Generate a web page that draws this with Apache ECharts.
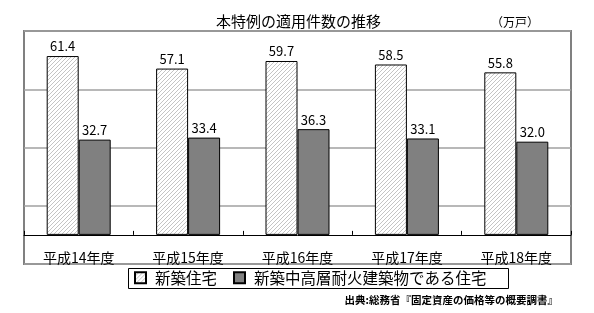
<!DOCTYPE html>
<html>
<head>
<meta charset="utf-8">
<script src="https://cdn.jsdelivr.net/npm/echarts@6/dist/echarts.min.js"></script>
<style>
html,body{margin:0;padding:0;background:#fff;}
#chart{width:594px;height:313px;}
</style>
</head>
<body>
<div id="chart"></div>
<script>
var categories = ['平成14年度', '平成15年度', '平成16年度', '平成17年度', '平成18年度'];
var seriesNames = ['新築住宅', '新築中高層耐火建築物である住宅'];
var newHousing = [61.4, 57.1, 59.7, 58.5, 55.8];
var fireproofHousing = [32.7, 33.4, 36.3, 33.1, 32.0];

var FONT = '"Noto Sans CJK JP", "Noto Sans", sans-serif';

function makeHatch() {
  var c = document.createElement('canvas');
  var s = 4;
  c.width = s; c.height = s;
  var ctx = c.getContext('2d');
  ctx.fillStyle = '#ffffff';
  ctx.fillRect(0, 0, s, s);
  ctx.strokeStyle = '#c4c4c4';
  ctx.lineWidth = 1;
  ctx.beginPath();
  ctx.moveTo(-1, s + 1); ctx.lineTo(s + 1, -1);
  ctx.moveTo(-1, 1); ctx.lineTo(1, -1);
  ctx.moveTo(s - 1, s + 1); ctx.lineTo(s + 1, s - 1);
  ctx.stroke();
  return c;
}

var chart = echarts.init(document.getElementById('chart'));
var labelStyle = {
  show: true, position: 'top', distance: 3,
  color: '#000', fontSize: 13, fontFamily: FONT,
  formatter: function (p) { return p.value.toFixed(1); }
};

chart.setOption({
  animation: false,
  backgroundColor: '#fff',
  title: [{
    text: '本特例の適用件数の推移',
    left: 211, top: 9,
    textStyle: { fontSize: 15, fontWeight: 'normal', color: '#000', fontFamily: FONT }
  }, {
    text: '（万戸）',
    left: 486, top: 11,
    textStyle: { fontSize: 12, fontWeight: 'normal', color: '#000', fontFamily: FONT }
  }, {
    text: '出典:総務省『固定資産の価格等の概要調書』',
    right: 31, top: 290,
    textStyle: { fontSize: 10.5, fontWeight: 'bold', color: '#000', fontFamily: FONT }
  }],
  graphic: [{
    type: 'rect',
    shape: { x: 128.5, y: 268.5, width: 380, height: 20 },
    style: { fill: 'none', stroke: '#000', lineWidth: 1 },
    z: 10
  }],
  legend: {
    left: 134, top: 270,
    padding: [0, 0],
    itemWidth: 11, itemHeight: 11, itemGap: 16,
    icon: 'rect',
    textStyle: { fontSize: 15.5, color: '#000', fontFamily: FONT, padding: [0, 0, 0, 4] },
    data: seriesNames
  },
  grid: {
    left: 24, right: 23, top: 31, bottom: 49,
    show: true, borderColor: '#808080', borderWidth: 2, backgroundColor: 'transparent'
  },
  xAxis: {
    type: 'category',
    data: categories,
    axisLine: { onZero: true, lineStyle: { color: '#000', width: 1 } },
    axisTick: { show: true, inside: true, length: 4, lineStyle: { color: '#000' } },
    axisLabel: { margin: -13, verticalAlign: 'top', fontSize: 14, color: '#000', fontFamily: FONT },
    z: 5
  },
  yAxis: {
    type: 'value',
    min: -10, max: 70, interval: 20,
    axisLine: { show: false },
    axisTick: { show: false },
    axisLabel: { show: false },
    splitLine: { show: true, lineStyle: { color: '#a0a0a0', width: 1.5 } }
  },
  series: [{
    name: seriesNames[0],
    type: 'bar',
    data: newHousing,
    barWidth: 32,
    barGap: '0%',
    itemStyle: { color: { image: makeHatch(), repeat: 'repeat' }, borderColor: '#000', borderWidth: 1 },
    label: labelStyle
  }, {
    name: seriesNames[1],
    type: 'bar',
    data: fireproofHousing,
    barWidth: 32,
    barGap: '0%',
    itemStyle: { color: '#808080', borderColor: '#000', borderWidth: 1 },
    label: labelStyle
  }]
});
</script>
</body>
</html>
